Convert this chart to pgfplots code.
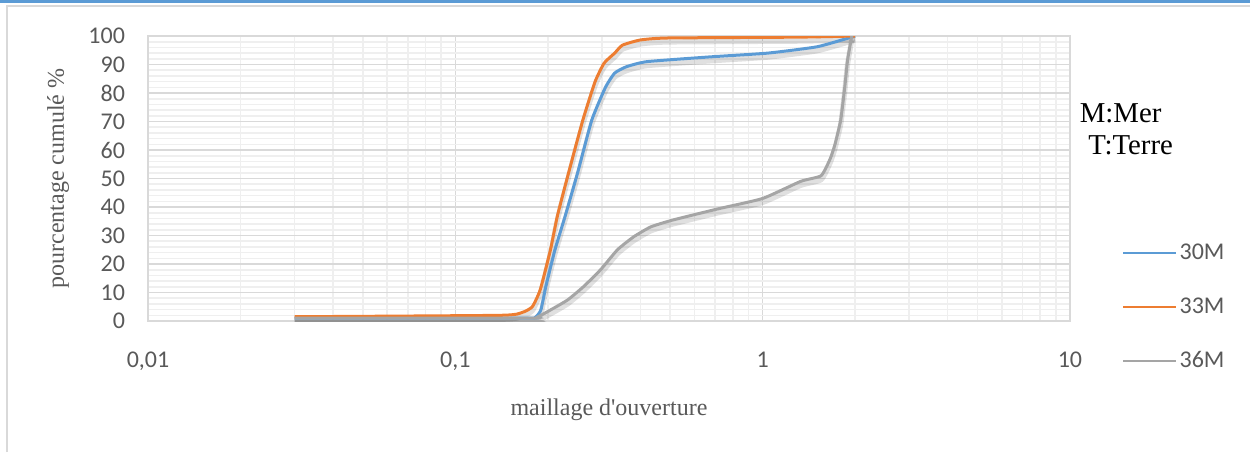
\documentclass[border=0pt]{standalone}
\usepackage{fontspec}
\setmainfont{Liberation Serif}
\newfontfamily\calibri{Carlito}
\usepackage{pgfplots}
\usepackage{pgfplotstable}
\pgfplotsset{compat=1.18}

\definecolor{c30}{HTML}{5B9BD5}
\definecolor{c33}{HTML}{ED7D31}
\definecolor{c36}{HTML}{A5A5A5}
\definecolor{tickgray}{HTML}{595959}
\definecolor{gridmaj}{HTML}{D9D9D9}
\definecolor{gridmin}{HTML}{EFEFEF}
\definecolor{topblue}{HTML}{5B9BD5}

% maillage (mm)  pourcentage cumule (%)
\pgfplotstableread{
x y
0.03 1
0.17 1
0.183 1.5
0.19 4
0.197 12
0.211 25
0.228 37
0.25 52
0.278 70.5
0.308 82
0.33 87
0.36 89.2
0.42 91
0.68 92.7
1.04 94
1.5 96.2
1.89 99.2
2 100
}\tabA
\pgfplotstableread{
x y
0.03 1.5
0.14 2
0.165 3
0.178 5
0.189 11
0.204 25
0.215 37
0.235 53
0.26 70.5
0.285 84
0.305 90.5
0.33 94
0.35 96.8
0.40 98.6
0.49 99.3
1.3 99.6
2 100
}\tabB
\pgfplotstableread{
x y
0.03 1
0.17 1
0.185 1.4
0.205 4
0.232 7.4
0.261 12
0.297 18
0.337 25
0.38 29.5
0.432 33
0.509 35.4
0.713 39.3
1.0 43
1.33 49
1.55 51
1.66 57
1.72 62
1.795 70.5
1.85 82
1.89 91.6
1.95 100
}\tabC

\begin{document}
\begin{tikzpicture}
\path[use as bounding box] (0,0) rectangle (625pt,226pt);
\fill[topblue] (0,224.6pt) rectangle (625pt,226pt);
\draw[gridmaj, line width=1.2pt] (3.5pt,0) -- (3.5pt,223pt) -- (625pt,223pt);

\begin{axis}[
    at={(74pt,65.5pt)}, anchor=south west,
    scale only axis, width=461pt, height=142.5pt,
    xmode=log, xmin=0.01, xmax=10, ymin=0, ymax=100,
    xtick={0.01,0.1,1,10},
    xticklabels={{0,01},{0,1},{1},{10}},
    minor xtick={0.02,0.03,0.04,0.05,0.06,0.07,0.08,0.09,
                 0.2,0.3,0.4,0.5,0.6,0.7,0.8,0.9,
                 2,3,4,5,6,7,8,9},
    ytick={0,10,...,100},
    minor ytick={2,4,...,98},
    grid=both,
    major grid style={draw=gridmaj, line width=0.8pt},
    minor grid style={draw=gridmin, line width=0.8pt},
    axis line style={draw=gridmaj, line width=0.8pt},
    major tick length=0pt, minor tick length=0pt,
    /pgf/number format/assume math mode=true,
    tick label style={font=\calibri\fontsize{12}{14}\selectfont, text=tickgray},
    xticklabel style={yshift=-12pt},
    yticklabel style={xshift=-8pt},
    xlabel={maillage d\textquotesingle ouverture},
    ylabel={pourcentage cumulé \%},
    label style={font=\fontsize{12}{14}\selectfont, text=tickgray},
    xlabel style={at={(axis description cs:0.5,-0.312)}, anchor=center},
    ylabel style={at={(axis description cs:-0.0976,0.5)}, anchor=center},
    legend style={draw=none, fill=none, at={(axis description cs:1.0564,0.279)},
        anchor=north west, inner sep=0pt, row sep=15.5pt,
        nodes={inner sep=1pt},
        font=\calibri\fontsize{12}{14}\selectfont, text=tickgray},
    legend cell align=left,
    legend image code/.code={\draw[#1, line width=1.1pt] (0pt,0pt) -- (26.5pt,0pt);},
]
% ombres
\addplot[forget plot, black, opacity=0.12, line width=2.6pt, yshift=-2pt, smooth, tension=0.3] table {\tabA};
\addplot[forget plot, black, opacity=0.12, line width=2.6pt, yshift=-2pt, smooth, tension=0.3] table {\tabB};
\addplot[forget plot, black, opacity=0.12, line width=2.6pt, yshift=-2pt, smooth, tension=0.3] table {\tabC};
% courbes
\addplot[c30, line width=1.5pt, smooth, tension=0.3] table {\tabA};
\addplot[c33, line width=1.5pt, smooth, tension=0.3] table {\tabB};
\addplot[c36, line width=1.5pt, smooth, tension=0.3] table {\tabC};
\legend{30M,33M,36M}
\end{axis}

\node[anchor=base west, inner sep=0pt, font=\fontsize{14.4}{17}\selectfont] at (539.7pt,164.85pt) {M:Mer};
\node[anchor=base west, inner sep=0pt, font=\fontsize{14.4}{17}\selectfont] at (544pt,149pt) {T:Terre};
\end{tikzpicture}
\end{document}
